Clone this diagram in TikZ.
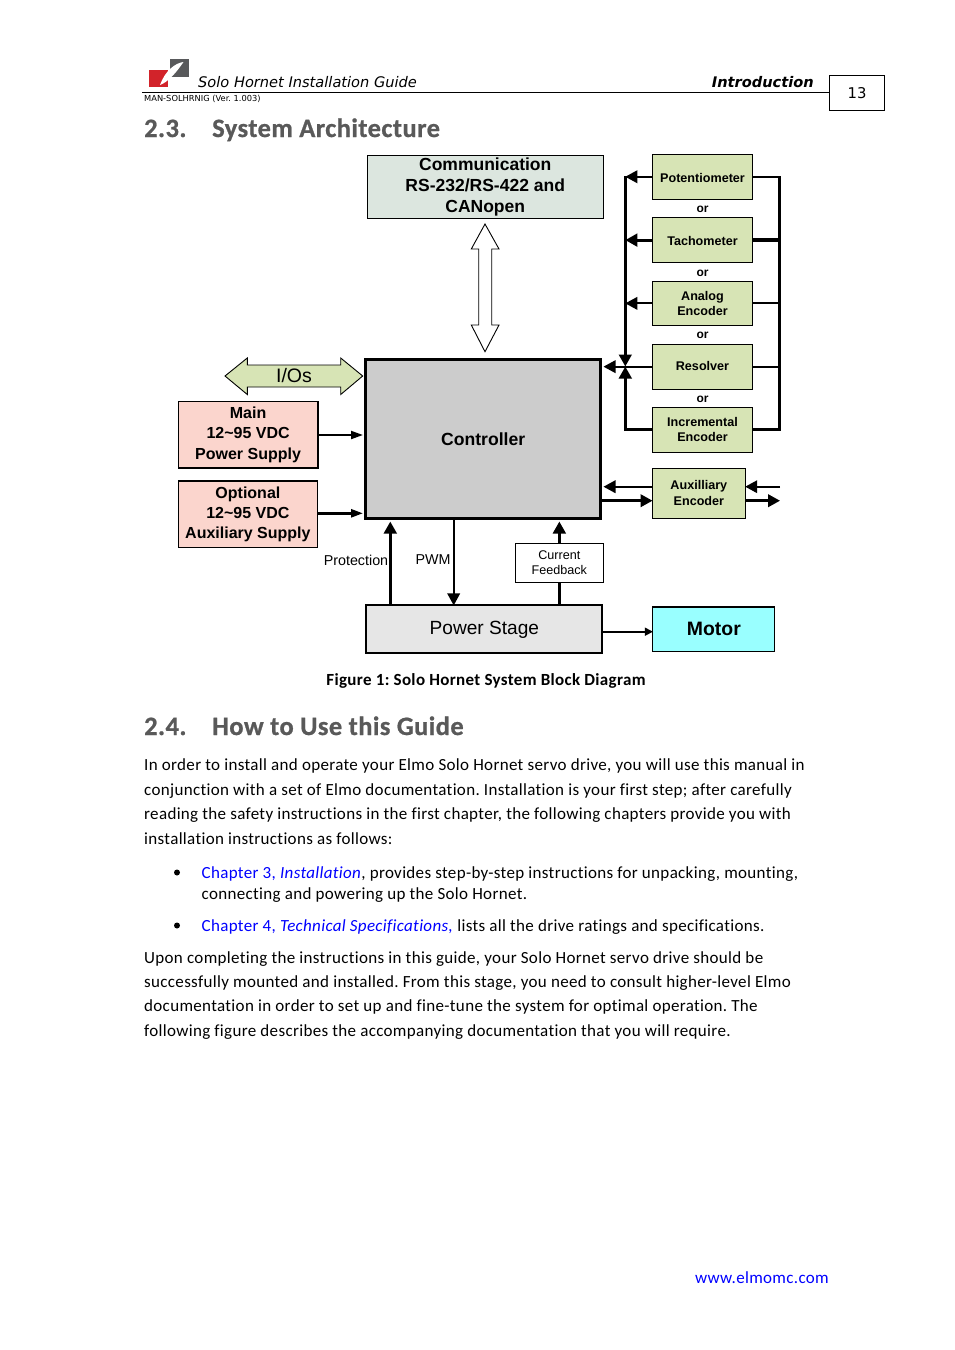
\documentclass[tikz,border=0pt]{standalone}
\usepackage{fontspec}
\setmainfont[LetterSpace=1.95,Ligatures=NoCommon]{Carlito}
\newfontfamily\arialf{Liberation Sans}
\newfontfamily\verdf{DejaVu Sans}
\newfontfamily\headf[LetterSpace=1.6,Ligatures=NoCommon,FakeBold=0.8]{Carlito Bold}
\usetikzlibrary{arrows.meta,calc}
\AtBeginDocument{\frenchspacing}
\definecolor{headgray}{HTML}{595959}
\definecolor{greenbox}{HTML}{D7E4B5}
\definecolor{commfill}{HTML}{DCE6DF}
\definecolor{pinkbox}{HTML}{FBD5CD}
\definecolor{ctrlfill}{HTML}{CCCCCC}
\definecolor{psfill}{HTML}{E6E6E6}
\definecolor{motorfill}{HTML}{99FFFF}
\definecolor{linkblue}{HTML}{0000FF}
\definecolor{logored}{HTML}{D2232A}
\definecolor{logogray}{HTML}{58595B}
\tikzset{
 x=1pt,y=-1pt,
 pbox/.style={draw=black,line width=1pt,inner sep=0pt,outer sep=0pt,align=center,anchor=north west,font=\arialf\bfseries\fontsize{12.6}{15.5}\selectfont},
 sensor/.style={pbox,fill=greenbox},
 supply/.style={pbox,fill=pinkbox,line width=1.6pt,font=\arialf\bfseries\fontsize{16}{20.4}\selectfont},
 txt/.style={anchor=base west,inner sep=0pt,font=\fontsize{17}{20}\selectfont},
 head/.style={anchor=base west,inner sep=0pt,text=headgray,font=\headf\fontsize{26.5}{30}\selectfont},
 orlab/.style={anchor=center,inner sep=0pt,font=\arialf\bfseries\fontsize{12}{14}\selectfont},
 lab/.style={anchor=center,inner sep=0pt,font=\arialf\fontsize{14.3}{17}\selectfont},
 conn/.style={draw=black,line width=#1,line cap=butt},
 conn/.default=3pt,
 tip/.style={-{Triangle[length=12pt,width=12.5pt]}},
 smalltip/.style={-{Triangle[length=8pt,width=8pt]}},
}
\begin{document}
\begin{tikzpicture}
\useasboundingbox (0,0) rectangle (954,1350);
% logo
\fill[logored] (149,70) rectangle (167.5,86.5);
\fill[logogray] (170,59) rectangle (188.5,76.5);
\fill[white] (183.5,62) .. controls (175,63) and (165,71) .. (160,85) .. controls (168,82) and (176,73) .. (183.5,62) -- cycle;
% header
\node[anchor=base west,inner sep=0pt,font=\verdf\itshape\fontsize{14.6}{17}\selectfont] (hdtitle) at (198,87) {Solo Hornet Installation Guide};
\node[anchor=base east,inner sep=0pt,font=\verdf\bfseries\itshape\fontsize{14.6}{17}\selectfont] (hdsec) at (814,87) {Introduction};
\node[anchor=base west,inner sep=0pt,font=\verdf\fontsize{8.3}{10}\selectfont] (hdman) at (144,101) {MAN-SOLHRNIG (Ver. 1.003)};
\draw[line width=.9pt] (142,92.5) coordinate (rulea) -- (829,92.5) coordinate (ruleb);
\node[draw=black,line width=.9pt,outer sep=0pt,minimum width=55pt,minimum height=35pt,inner sep=0pt,anchor=north west,font=\verdf\fontsize{14.8}{17}\selectfont] (pageno) at (829.5,75.5) {13};
% headings
\node[head] (h23a) at (144,137) {2.3.};
\node[head] (h23b) at (212,137) {System Architecture};
% boxes
\node[pbox,fill=commfill,line width=.8pt,minimum width=236.5pt,minimum height=63pt,font=\arialf\bfseries\fontsize{17.5}{21}\selectfont] (comm) at (367,155) {Communication\\RS-232/RS-422 and\\CANopen};
\node[sensor,minimum width=100pt,minimum height=44.5pt] (pot) at (652.5,154.5) {\raisebox{-1pt}[\height][\depth]{Potentiometer}};
\node[sensor,minimum width=99.8pt,minimum height=45pt,line width=1.3pt] (tach) at (652.6,217.6) {\raisebox{-1pt}[\height][\depth]{Tachometer}};
\node[sensor,minimum width=100pt,minimum height=44.7pt] (ana) at (652.5,281) {Analog\\Encoder};
\node[sensor,minimum width=100pt,minimum height=44.7pt] (res) at (652.5,344.3) {\raisebox{1pt}[\height][\depth]{Resolver}};
\node[sensor,minimum width=100pt,minimum height=44.7pt] (inc) at (652.5,407.3) {Incremental\\Encoder};
\node[sensor,minimum width=92.7pt,minimum height=49.7pt] (aux) at (652.5,468.3) {Auxilliary\\Encoder};
\node[orlab] (or1) at (702.5,209.5) {or};
\node[orlab] (or2) at (702.5,273.5) {or};
\node[orlab] (or3) at (702.5,335.5) {or};
\node[orlab] (or4) at (702.5,399.5) {or};
\node[pbox,fill=ctrlfill,line width=3pt,minimum width=235.3pt,minimum height=158.7pt,font=\arialf\bfseries\fontsize{17.6}{21}\selectfont] (ctrl) at (365.5,359.8) {Controller};
\node[supply,minimum width=139.6pt,minimum height=66.6pt] (main) at (178.3,401.3) {Main\\12\textasciitilde 95 VDC\\Power Supply};
\node[supply,minimum width=139.2pt,minimum height=66.6pt] (opt) at (178.3,481) {Optional\\12\textasciitilde 95 VDC\\Auxiliary Supply};
\node[pbox,fill=psfill,line width=2pt,minimum width=236pt,minimum height=48pt,font=\arialf\fontsize{19.1}{22}\selectfont] (ps) at (366.4,605.4) {Power Stage};
\node[pbox,fill=motorfill,line width=1.1pt,minimum width=122pt,minimum height=44.5pt,font=\arialf\bfseries\fontsize{19.4}{22}\selectfont] (motor) at (652.9,607) {Motor};
\node[pbox,fill=white,minimum width=87.5pt,minimum height=38.5pt,font=\arialf\fontsize{12.6}{15}\selectfont] (cf) at (515.6,543.6) {Current\\Feedback};
\node[lab] (lprot) at (356,560) {Protection};
\node[lab] (lpwm) at (433,560) {PWM};
% block arrows
\draw[draw=black,fill=greenbox,line width=.9pt] (225,376) coordinate (ioL) -- (247.3,358) -- (247.3,365) -- (340.7,365) -- (340.7,358) -- (362.7,376) coordinate (ioR) -- (340.7,394.5) -- (340.7,387) -- (247.3,387) -- (247.3,394.5) -- cycle;
\node[inner sep=0pt,font=\arialf\fontsize{19.5}{22}\selectfont] (ios) at (294,376) {I/Os};
\draw[draw=black,fill=white,line width=.9pt] (485,224) coordinate (bdT) -- (499,249) -- (491.7,249) -- (491.7,325) -- (499,325) -- (485,351.7) coordinate (bdB) -- (471.3,325) -- (478.7,325) -- (478.7,249) -- (471.3,249) -- cycle;
% left bus and right bus
\coordinate (busL) at (625.3,0);
\coordinate (busR) at (779.5,0);
\coordinate (junc) at (625.3,366.5);
\draw[conn=2pt,tip] (pot.west) -- (pot.west -| busL);
\draw[conn=3pt,tip] (tach.west) -- (tach.west -| busL);
\draw[conn=2pt,tip] (ana.west) -- (ana.west -| busL);
\draw[conn=3pt,tip] ($(pot.west -| busL)+(0,-1)$) -- (junc);
\draw[conn=3pt,tip] ($(inc.west -| busL)+(0,1.5)$) -- (junc);
\draw[conn=3pt] (inc.west) -- (inc.west -| busL);
\draw[conn=2pt,tip] (res.west) -- ($(res.west -| ctrl.east)+(2.7,0)$);
\draw[conn=2.5pt] (pot.east) -- (pot.east -| busR) -- (inc.east -| busR) -- (inc.east);
\draw[conn=3.5pt] (tach.east) -- (tach.east -| busR);
\draw[conn=2pt] (ana.east) -- (ana.east -| busR);
\draw[conn=2pt] (res.east) -- (res.east -| busR);
% auxiliary
\coordinate (auxIn) at (780,486.7);
\coordinate (auxOut) at (780,500.7);
\draw[conn=2pt,tip] (aux.west |- auxIn) -- ($(ctrl.east |- auxIn)+(2.7,0)$);
\draw[conn=2.5pt,tip] (ctrl.east |- auxOut) -- (aux.west |- auxOut);
\draw[conn=2pt,tip] (auxIn) -- (aux.east |- auxIn);
\draw[conn=2.5pt,tip] (aux.east |- auxOut) -- (auxOut);
% supplies
\draw[conn=2pt,-{Triangle[length=12pt,width=8pt]}] (main.east |- 0,435) -- ($(ctrl.west |- 0,435)+(-2.5,0)$);
\draw[conn=2.5pt,-{Triangle[length=12pt,width=8pt]}] (opt.east |- 0,513.3) -- ($(ctrl.west |- 0,513.3)+(-2.5,0)$);
% bottom
\draw[conn=3pt,tip] (ps.north -| 390.3,0) -- ($(ctrl.south -| 390.3,0)+(0,3)$);
\draw[conn=2pt,tip] (ctrl.south -| 453.7,0) -- (ps.north -| 453.7,0);
\draw[conn=3pt] (ps.north -| cf.south) -- (cf.south);
\draw[conn=3pt,tip] (cf.north) -- ($(cf.north |- ctrl.south)+(0,3)$);
\draw[conn=1.6pt,smalltip] (ps.east |- 0,631.7) -- (motor.west |- 0,631.7);
% caption
\node[anchor=base,inner sep=0pt,font=\bfseries\fontsize{17}{20}\selectfont] (cap) at (486,685) {Figure 1: Solo Hornet System Block Diagram};
\node[head] (h24a) at (144,735) {2.4.};
\node[head] (h24b) at (212,735) {How to Use this Guide};
% body
\node[txt] (p1) at (144,770) {In order to install and operate your Elmo Solo Hornet servo drive, you will use this manual in};
\node[txt] (p2) at (144,795) {conjunction with a set of Elmo documentation. Installation is your first step; after carefully};
\node[txt] (p3) at (144,819) {reading the safety instructions in the first chapter, the following chapters provide you with};
\node[txt] (p4) at (144,844) {installation instructions as follows:};
\fill (177,872.5) coordinate (b1) circle (3pt);
\node[txt] (b1a) at (201.5,878) {\textcolor{linkblue}{Chapter 3, \textit{Installation}}, provides step-by-step instructions for unpacking, mounting,};
\node[txt] (b1b) at (201.5,899) {connecting and powering up the Solo Hornet.};
\fill (177,925.5) coordinate (b2) circle (3pt);
\node[txt] (b2a) at (201.5,931) {\textcolor{linkblue}{Chapter 4, \textit{Technical Specifications,}} lists all the drive ratings and specifications.};
\node[txt] (q1) at (144,963) {Upon completing the instructions in this guide, your Solo Hornet servo drive should be};
\node[txt] (q2) at (144,987) {successfully mounted and installed. From this stage, you need to consult higher-level Elmo};
\node[txt] (q3) at (144,1011) {documentation in order to set up and fine-tune the system for optimal operation. The};
\node[txt] (q4) at (144,1036) {following figure describes the accompanying documentation that you will require.};
\node[anchor=base east,inner sep=0pt,text=linkblue,font=\fontsize{17}{20}\selectfont] (web) at (829,1283) {www.elmomc.com};
\end{tikzpicture}
\end{document}
